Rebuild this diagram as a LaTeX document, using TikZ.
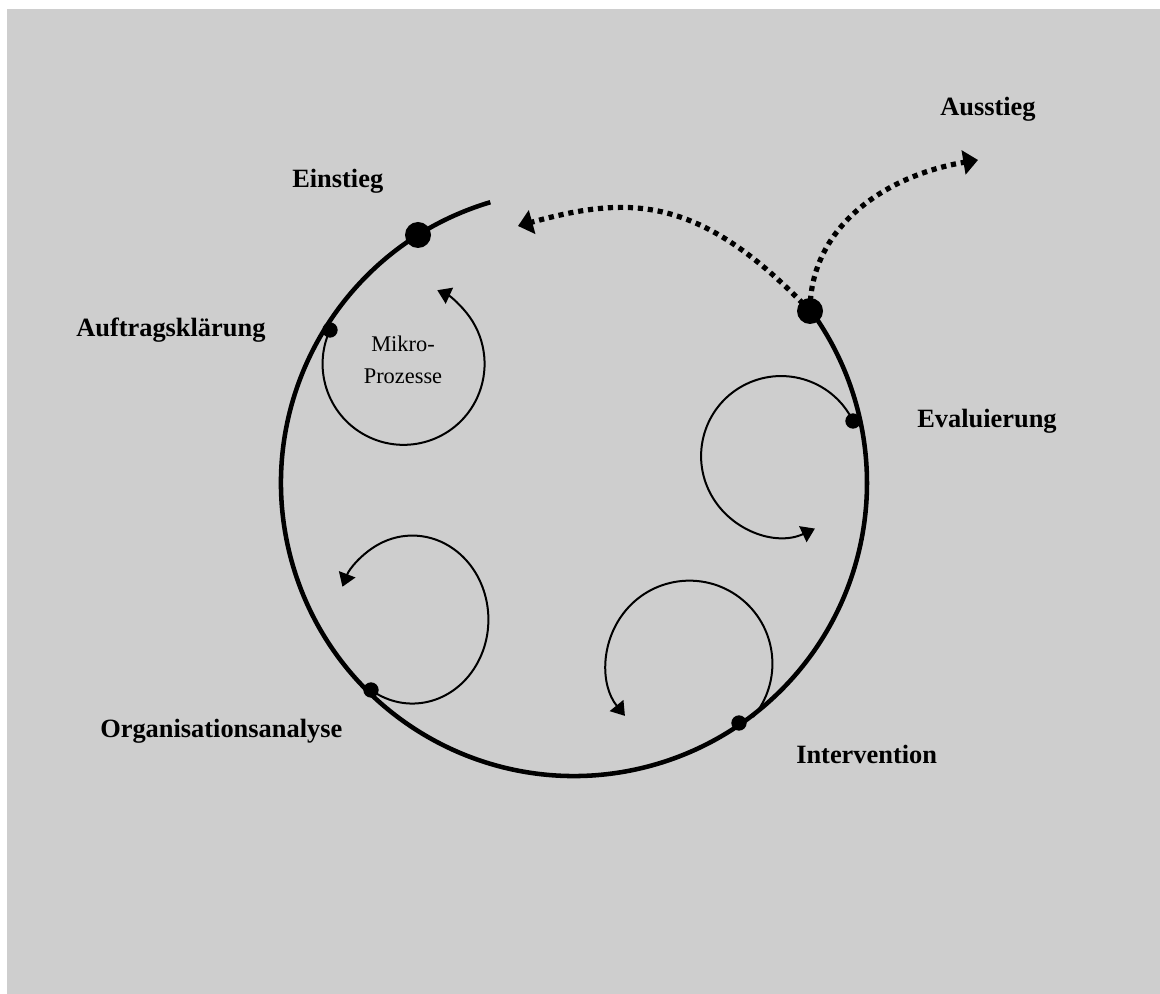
\documentclass[tikz,border=0pt]{standalone}
\usepackage{fontspec}
\setmainfont{Liberation Serif}
\usetikzlibrary{arrows.meta}
\definecolor{bg}{RGB}{206,206,206}
\begin{document}
\begin{tikzpicture}[x=0.75pt,y=-0.75pt,
  bigline/.style={line width=3.4pt},
  bigdot/.style={circle,fill=black,inner sep=0pt,minimum size=19.5pt},
  smalldot/.style={circle,fill=black,inner sep=0pt,minimum size=11.5pt},
  micro/.style={line width=1.5pt,-{Triangle[length=10pt,width=13pt]}},
  dotarrow/.style={line width=3.9pt,dash pattern=on 3.9pt off 3.6pt,-{Triangle[length=11pt,width=18pt]}},
  lab/.style={font=\fontsize{19.8}{24}\selectfont\bfseries,anchor=base west,inner sep=0pt},
  mlab/.style={font=\fontsize{16.8}{24.5}\selectfont,align=center,inner sep=0pt}
]
\useasboundingbox (0,0) rectangle (1160,994);
\fill[bg] (7,9) rectangle (1160,994);
\coordinate (c) at (574,483);
% main cycle
\draw[bigline] ([shift={(-106.6:293)}]c) arc[start angle=-106.6,end angle=-396.1,radius=293];
% dots
\node[bigdot] (ein) at (418,235) {};
\node[bigdot] (aus) at (810,311) {};
\node[smalldot] (auf) at (330,330) {};
\node[smalldot] (org) at (371,690) {};
\node[smalldot] (int) at (739,723) {};
\node[smalldot] (eva) at (853,421) {};
% micro loops
\draw[micro] (auf.center) arc[start angle=204.7,end angle=-65.4,radius=81];
\draw[micro] (eva.center) arc[start angle=-26,end angle=-295,radius=80];
\draw[micro] (org.center) arc[start angle=123,end angle=-157,x radius=76,y radius=84];
\draw[micro] ([shift={(14,-6)}]int.center) arc[start angle=40,end angle=-219,radius=83];
% dotted arrows
\coordinate (back) at (518,226);
\coordinate (out) at (978,160);
\draw[dotarrow] (aus.center) .. controls (700,195) and (630,195) .. (back);
\draw[dotarrow] (aus.center) .. controls (810,225) and (888,175) .. (out);
% labels
\node[lab] (tein) at (292,188) {Einstieg};
\node[lab] (taus) at (940,116) {Ausstieg};
\node[lab] (tauf) at (76,337) {Auftragsklärung};
\node[lab] (teva) at (917,428) {Evaluierung};
\node[lab] (torg) at (100,737) {Organisationsanalyse};
\node[lab] (tint) at (796,763) {Intervention};
\node[mlab] (tmik) at (403,360) {Mikro-\\Prozesse};
\end{tikzpicture}
\end{document}
